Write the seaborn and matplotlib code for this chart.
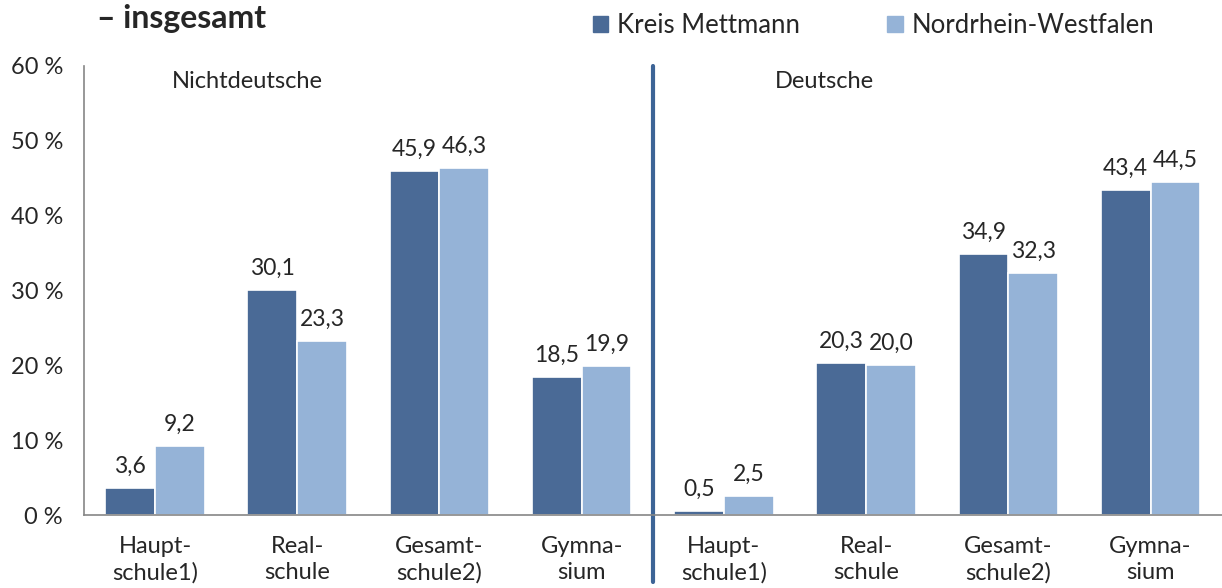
import pandas as pd
import matplotlib.pyplot as plt
import seaborn as sns

schulen = ['Haupt-\nschule1)', 'Real-\nschule', 'Gesamt-\nschule2)', 'Gymna-\nsium']
gruppen = ['Nichtdeutsche', 'Deutsche']
gebiete = ['Kreis Mettmann', 'Nordrhein-Westfalen']
kreis = [3.6, 30.1, 45.9, 18.5, 0.5, 20.3, 34.9, 43.4]
nrw = [9.2, 23.3, 46.3, 19.9, 2.5, 20.0, 32.3, 44.5]

keys = [g + ' ' + s for g in gruppen for s in schulen]
df = pd.DataFrame({
    'key': keys * 2,
    'gebiet': [gebiete[0]] * 8 + [gebiete[1]] * 8,
    'wert': kreis + nrw,
})

sns.set_style('white')
plt.rcParams['font.family'] = ['Lato', 'DejaVu Sans']
plt.rcParams['font.size'] = 17

dunkel = '#4a6a96'
hell = '#95b3d7'

fig = plt.figure(figsize=(12.22, 5.88), dpi=100)
ax = fig.add_axes([0.0687, 0.124, 0.931, 0.764])

sns.barplot(data=df, x='key', y='wert', hue='gebiet', order=keys,
            palette=[dunkel, hell], saturation=1, width=0.7,
            edgecolor='white', linewidth=1.2, legend=False, ax=ax)

# Werte über den Balken
for cont in ax.containers:
    vals = [b.get_height() for b in cont]
    ax.bar_label(cont, labels=[f'{v:.1f}'.replace('.', ',') for v in vals],
                 padding=8, fontsize=16.5)

ax.set_xlim(-0.5, 7.5)
ax.set_ylim(0, 60)
ax.set_yticks(range(0, 61, 10))
ax.set_yticklabels([f'{v} %' for v in range(0, 61, 10)], fontsize=17)
ax.set_xticks(range(8))
ax.set_xticklabels(schulen * 2, linespacing=1.3, fontsize=17)
ax.set_xticks([i - 0.5 for i in range(9)], minor=True)
ax.tick_params(axis='x', which='major', length=0, pad=15)
ax.tick_params(axis='x', which='minor', length=7, color='#868686', width=1.2)
ax.tick_params(axis='y', length=7, color='#868686', width=1.2, pad=8)
ax.set_xlabel('')
ax.set_ylabel('')

for s in ['top', 'right']:
    ax.spines[s].set_visible(False)
for s in ['left', 'bottom']:
    ax.spines[s].set_color('#868686')
    ax.spines[s].set_linewidth(1.2)

# Trennlinie
ax.plot([3.5, 3.5], [60, -9], color='#3d6496', lw=3, clip_on=False)

ax.text(0.65, 57.9, gruppen[0], ha='center', va='center', fontsize=17)
ax.text(4.71, 57.9, gruppen[1], ha='center', va='center', fontsize=17)

handles = [plt.Rectangle((0, 0), 1, 1, color=c) for c in [dunkel, hell]]
fig.legend(handles, gebiete, loc='center left', bbox_to_anchor=(0.485, 0.957),
           ncol=2, frameon=False, borderpad=0, borderaxespad=0,
           handlelength=0.6, handleheight=0.6, handletextpad=0.35,
           columnspacing=3.4, fontsize=18.5)

fig.text(0.079, 0.968, '– insgesamt', fontsize=23, fontweight='bold',
         ha='left', va='center')

fig.savefig('out.png', dpi=100)
